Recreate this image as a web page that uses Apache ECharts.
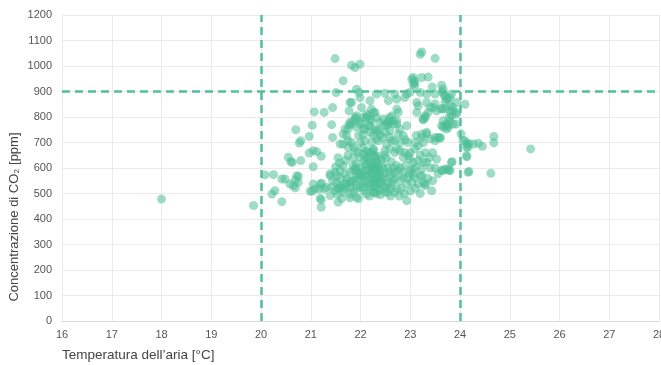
<!DOCTYPE html>
<html>
<head>
<meta charset="utf-8">
<script src="https://cdn.jsdelivr.net/npm/echarts@6/dist/echarts.min.js"></script>
<style>
  html, body { margin: 0; padding: 0; background: #fff; }
  #chart { width: 661px; height: 365px; }
</style>
</head>
<body>
<div id="chart"></div>
<script>
// valori: [temperatura °C, CO2 ppm]
const outliers = [
  [18.0, 478], [19.85, 453], [25.42, 675], [24.68, 724], [24.68, 699], [24.62, 579], [24.16, 583]
]

const rightCluster = [
  [24.1, 850], [24.02, 734], [24.1, 707], [24.14, 695], [24.18, 695], [24.13, 681], [24.37, 697],
  [24.45, 685], [24.14, 644], [24.18, 586], [24.27, 694], [23.84, 625], [23.66, 590], [23.78, 590],
  [23.63, 925], [23.64, 899], [23.68, 886], [23.75, 872], [23.64, 833], [23.85, 839], [23.92, 811],
  [23.78, 798], [23.63, 766], [23.73, 772], [23.76, 766], [23.92, 772], [23.6, 716],
  [24.06, 707], [24.16, 681], [24.13, 648], [23.8, 876], [23.93, 857], [23.7, 857], [23.8, 844],
  [23.86, 824], [23.93, 818], [23.8, 785], [23.66, 760], [23.6, 720], [23.63, 831], [23.47, 837]
]

const leftCluster = [
  [20.97, 724], [20.77, 698], [20.8, 707], [20.97, 659], [21.05, 668], [21.12, 664], [21.21, 646],
  [20.55, 642], [20.6, 625], [20.63, 622], [20.8, 629], [21.05, 605], [20.08, 573], [20.25, 574],
  [20.42, 557], [20.48, 557], [20.75, 567], [20.69, 553], [20.58, 537], [20.69, 522], [20.28, 511],
  [20.22, 498], [20.42, 468], [21.05, 537], [20.99, 509], [21.03, 509], [21.09, 518], [21.19, 537],
  [21.22, 540], [21.17, 518], [21.27, 518], [21.19, 481], [21.21, 475], [21.21, 446], [21.32, 524],
  [21.39, 492], [21.39, 577], [20.72, 570], [20.75, 544], [20.65, 531], [21.03, 768], [20.7, 750],
  [21.07, 820], [21.27, 818]
]

const upperCluster = [
  [21.49, 1029], [21.82, 1003], [21.65, 942], [21.51, 896], [21.82, 857], [21.44, 837], [21.77, 824],
  [21.89, 798], [21.42, 770], [21.77, 770], [21.82, 772], [21.69, 753], [21.44, 720], [21.72, 727],
  [21.75, 707], [21.65, 694], [21.82, 700], [21.86, 681], [21.75, 681], [21.89, 668], [21.92, 792],
  [22.02, 779], [22.12, 798], [22.22, 785], [22.19, 766], [22.29, 753], [22.36, 746], [22.09, 753],
  [22.22, 700], [22.36, 707], [22.32, 714], [22.16, 661], [22.26, 668], [22.29, 648], [22.12, 642],
  [22.46, 792], [22.56, 779], [22.59, 798], [22.66, 785], [22.73, 772], [22.93, 766], [22.86, 727],
  [22.76, 733], [22.59, 720], [22.63, 707], [22.73, 675], [22.79, 668], [22.89, 661], [22.96, 648],
  [22.86, 642], [22.69, 661], [22.59, 675], [22.49, 668], [23.12, 727], [23.23, 720], [23.33, 733],
  [23.4, 714], [23.5, 720], [23.56, 720], [23.26, 700], [23.16, 687], [23.09, 675], [23.73, 753],
  [23.26, 792], [23.3, 805], [23.23, 733], [23.33, 740], [23.5, 707],
  [23.2, 1046], [23.23, 1055], [23.5, 1030], [21.99, 1007], [21.89, 994], [23.03, 948], [23.08, 942],
  [23.06, 929], [23.09, 922], [23.23, 955], [23.36, 957], [23.44, 918], [23.66, 909], [21.92, 909],
  [21.99, 876], [21.97, 896], [22.32, 890], [22.49, 893], [22.69, 890], [22.93, 890], [22.99, 896],
  [22.89, 876], [23.2, 896], [23.33, 890], [23.5, 890], [23.7, 883], [23.73, 870], [23.83, 890],
  [22.02, 837], [22.19, 864], [22.22, 831], [22.29, 818], [22.12, 811], [22.06, 798], [22.19, 792],
  [22.32, 798], [21.92, 805], [21.99, 772], [22.39, 779], [22.46, 766], [22.16, 766], [22.56, 864],
  [22.73, 870], [22.73, 831], [22.76, 818], [22.63, 805], [22.56, 785], [22.66, 772], [22.52, 768],
  [23.13, 857], [23.16, 844], [23.33, 857], [23.4, 837], [23.5, 851], [23.53, 824], [23.36, 818],
  [23.3, 798], [23.26, 789], [23.13, 818], [23.7, 831], [23.8, 824], [23.83, 805], [23.66, 785],
  [23.7, 766], [23.76, 760], [23.86, 772], [23.06, 955], [23.09, 935],
  [21.79, 857], [21.59, 694], [21.65, 733], [21.79, 779], [21.86, 785], [21.75, 753], [21.92, 760],
  [21.96, 727], [22.06, 753], [22.09, 707], [22.12, 668], [22.26, 675], [22.32, 746], [22.16, 805],
  [22.26, 818], [22.56, 772], [22.59, 746], [22.73, 785], [22.79, 753], [22.69, 707], [22.52, 694]
]

const lowerCluster = [
  [21.55, 466], [21.39, 570], [21.49, 583], [21.44, 550], [21.53, 570], [21.65, 609],
  [21.42, 524], [21.49, 511], [21.53, 498], [21.59, 524], [21.65, 518], [21.72, 537], [21.79, 524],
  [21.79, 498], [21.86, 505], [21.92, 485], [21.99, 524], [22.06, 511], [22.12, 498], [22.19, 524],
  [22.26, 505], [22.29, 544], [21.82, 550], [21.92, 563], [22.02, 577], [22.12, 590], [22.22, 602],
  [22.32, 616], [21.86, 590], [21.92, 616], [21.99, 642], [22.06, 655], [22.16, 642], [22.22, 661],
  [22.29, 642], [21.59, 590], [21.52, 544], [21.59, 531], [21.65, 505], [21.72, 524], [21.79, 483],
  [21.96, 479], [22.06, 524], [21.92, 531], [21.86, 550], [21.72, 557], [21.69, 577], [21.79, 583],
  [21.92, 590], [22.02, 570], [22.09, 550], [22.19, 557], [22.29, 550], [22.29, 505], [22.49, 505],
  [22.52, 524], [22.63, 537], [22.73, 518], [22.69, 505], [22.79, 550], [22.86, 563], [22.93, 537],
  [23.03, 544], [23.06, 577], [23.2, 570], [23.26, 544], [23.3, 531], [23.43, 511], [23.56, 577],
  [23.8, 590], [23.83, 622], [23.26, 622], [23.23, 596], [23.11, 602], [22.99, 590], [22.93, 472],
  [22.99, 635], [23.06, 622], [23.16, 629], [23.33, 622], [23.06, 596], [22.99, 577], [23.09, 563],
  [23.23, 570], [23.16, 537], [23.3, 537], [23.53, 635], [23.63, 590], [23.7, 596], [23.76, 596]
]

const coreCluster = [
  [22.0, 600], [22.05, 585], [22.1, 612], [22.15, 575], [22.18, 628], [22.2, 590], [22.24, 565],
  [22.27, 598], [22.3, 580], [22.33, 560], [22.35, 605], [22.38, 590], [22.4, 570], [22.42, 545],
  [22.44, 615], [22.46, 598], [22.48, 580], [22.5, 560], [22.52, 640], [22.55, 600], [22.58, 585],
  [22.6, 570], [22.62, 625], [22.66, 600], [22.68, 580], [22.7, 560], [22.72, 610], [22.75, 590],
  [22.15, 540], [22.2, 530], [22.25, 520], [22.3, 535], [22.35, 525], [22.4, 515], [22.38, 540],
  [22.45, 530], [22.55, 540], [22.6, 520], [22.65, 550], [22.05, 540], [21.98, 555], [21.95, 575],
  [21.9, 600], [21.85, 610], [22.08, 630], [22.12, 615], [22.25, 620], [22.28, 610], [22.32, 630],
  [22.36, 645], [22.42, 632], [22.48, 650], [22.22, 580], [22.26, 555], [22.36, 575], [22.44, 560],
  [22.32, 500], [22.18, 490], [22.4, 495], [22.55, 505], [22.1, 570], [22.2, 610], [22.3, 590],
  [22.34, 600], [21.8, 545], [21.7, 540], [21.6, 560], [21.55, 520], [21.62, 480], [21.9, 520],
  [22.8, 600], [22.85, 580], [22.9, 610], [22.95, 560], [22.82, 520], [22.88, 500], [23.0, 510],
  [23.1, 520], [22.78, 490], [22.6, 490], [23.2, 500], [23.35, 560], [23.45, 550], [23.5, 600],
  [23.4, 600], [23.38, 640], [23.45, 660], [23.3, 660], [23.2, 650], [23.0, 660], [23.1, 700],
  [22.95, 700], [22.9, 710], [22.8, 700], [22.45, 720], [22.5, 740], [22.4, 730], [22.25, 730],
  [22.2, 740], [22.05, 730], [22.0, 700], [22.05, 680], [21.95, 660], [21.85, 640], [21.75, 650],
  [21.7, 630], [21.55, 640], [21.5, 605], [21.58, 620]
]

const thresholdTemps = [20, 24]
const thresholdCo2 = 900
const xTitle = 'Temperatura dell’aria [°C]'
const yTitle = 'Concentrazione di CO₂ [ppm]'

const points = [].concat(outliers, rightCluster, leftCluster, upperCluster, lowerCluster, coreCluster)

const chart = echarts.init(document.getElementById('chart'), null, { renderer: 'canvas' })

const labelFont = 'Liberation Sans'
const lineColor = '#52c09b'

const option = {
  animation: false,
  grid: { left: 62, right: 2, top: 15, bottom: 44, outerBoundsMode: 'none', containLabel: false },
  xAxis: {
    type: 'value',
    min: 16,
    max: 28,
    interval: 1,
    axisLine: { lineStyle: { color: '#d9d9d9' } },
    axisTick: { show: false },
    axisLabel: { color: '#555', fontSize: 11, margin: 8, fontFamily: labelFont },
    splitLine: { lineStyle: { color: '#ebebeb' } },
  },
  yAxis: {
    type: 'value',
    min: 0,
    max: 1200,
    interval: 100,
    axisLine: { show: false },
    axisTick: { show: false },
    axisLabel: {
      color: '#555',
      fontSize: 11,
      margin: 10,
      fontFamily: labelFont,
      formatter: (v) => String(v),
    },
    splitLine: { lineStyle: { color: '#ebebeb' } },
  },
  graphic: [
    {
      type: 'text',
      x: 62,
      y: 355,
      style: {
        text: xTitle,
        fill: '#444',
        font: '13.5px "Liberation Sans"',
        textAlign: 'left',
        textVerticalAlign: 'middle',
      },
    },
    {
      type: 'text',
      x: 14,
      y: 217,
      rotation: Math.PI / 2,
      style: {
        text: yTitle,
        fill: '#444',
        font: '13px "Liberation Sans"',
        textAlign: 'center',
        textVerticalAlign: 'middle',
      },
    },
  ],
  series: [
    {
      type: 'scatter',
      data: points,
      symbolSize: 9,
      itemStyle: { color: 'rgba(76, 190, 150, 0.68)' },
      markLine: {
        silent: true,
        symbol: 'none',
        label: { show: false },
        lineStyle: { color: lineColor, type: [8, 5], width: 2.5 },
        data: thresholdTemps.map((t) => ({ xAxis: t })).concat([{ yAxis: thresholdCo2 }]),
      },
    },
  ],
}

chart.setOption(option)
</script>
</body>
</html>
